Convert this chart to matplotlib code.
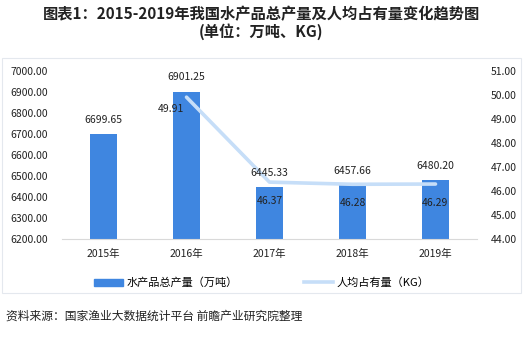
import matplotlib
matplotlib.use("Agg")
import matplotlib.pyplot as plt
from matplotlib.patches import Rectangle
from matplotlib.lines import Line2D

plt.rcParams["font.family"] = ["Noto Sans CJK SC", "DejaVu Sans"]

# ---- data ----
YEARS = ["2015年", "2016年", "2017年", "2018年", "2019年"]
OUTPUT = [6699.65, 6901.25, 6445.33, 6457.66, 6480.20]   # 万吨
PER_CAPITA = [None, 49.91, 46.37, 46.28, 46.29]          # KG

BAR = "#3f86e0"
LINE = "#c6def8"
TXT = "#222222"

fig = plt.figure(figsize=(5.23, 3.48), dpi=100)
W, H = 523, 348
ax = fig.add_axes([62 / W, 1 - 239 / H, 415 / W, 168 / H])
ax2 = ax.twinx()

x = list(range(len(YEARS)))
ax.bar(x, OUTPUT, width=0.33, color=BAR, zorder=2)

lx = [xi for xi, v in zip(x, PER_CAPITA) if v is not None]
ly = [v for v in PER_CAPITA if v is not None]
ax2.plot(lx, ly, color=LINE, lw=2.6, solid_capstyle="round", zorder=1)

# value labels go on the top axes so the line never covers them
for xi, v in zip(x, OUTPUT):
    ax2.text(xi, v + 68, f"{v:.2f}", ha="center", va="center", fontsize=7.5,
             color=TXT, transform=ax.transData, zorder=5)
for i, (xi, v) in enumerate(zip(lx, ly)):
    dx, dy = (-0.19, 0.5) if i == 0 else (0.0, 0.77)
    ax2.text(xi + dx, v - dy, f"{v:.2f}", ha="center", va="center",
             fontsize=7.5, color=TXT, zorder=5)

ax.set_xlim(-0.5, 4.5)
ax.set_ylim(6200, 7000)
ax.set_yticks(range(6200, 7001, 100))
ax.set_yticklabels([f"{t:.2f}" for t in range(6200, 7001, 100)])
ax2.set_ylim(44, 51)
ax2.set_yticks(range(44, 52))
ax2.set_yticklabels([f"{t:.2f}" for t in range(44, 52)])
ax.set_xticks(x)
ax.set_xticklabels(YEARS)

for a in (ax, ax2):
    for s in a.spines.values():
        s.set_visible(False)
    a.tick_params(length=0, labelsize=7.5, colors=TXT)
ax.spines["bottom"].set_visible(True)
ax.spines["bottom"].set_color("#d9d9d9")
ax.tick_params(axis="y", pad=10)
ax.tick_params(axis="x", pad=7)
ax2.tick_params(axis="y", pad=10)

# title
fig.text(0.5, 1 - 14 / H, "图表1：2015-2019年我国水产品总产量及人均占有量变化趋势图",
         ha="center", va="center", fontsize=11, fontweight="bold", color=TXT)
fig.text(0.5, 1 - 32 / H, "(单位：万吨、KG)",
         ha="center", va="center", fontsize=11, fontweight="bold", color=TXT)

# chart frame
fig.patches.append(Rectangle((2 / W, 1 - 293 / H), 519 / W, 235 / H,
                             transform=fig.transFigure, fill=False,
                             edgecolor="#e4e8ee", lw=0.8))

# legend
handles = [Rectangle((0, 0), 1, 1, color=BAR),
           Line2D([0], [0], color=LINE, lw=2.6)]
fig.legend(handles, ["水产品总产量（万吨）", "人均占有量（KG）"],
           loc="center", bbox_to_anchor=(0.5, 1 - 283 / H), ncol=2,
           frameon=False, fontsize=8, handlelength=2.6, columnspacing=6,
           handletextpad=0.3)

fig.text(6 / W, 1 - 316 / H, "资料来源：国家渔业大数据统计平台 前瞻产业研究院整理",
         ha="left", va="center", fontsize=8.5, color=TXT)

fig.savefig("out.png", dpi=100)
